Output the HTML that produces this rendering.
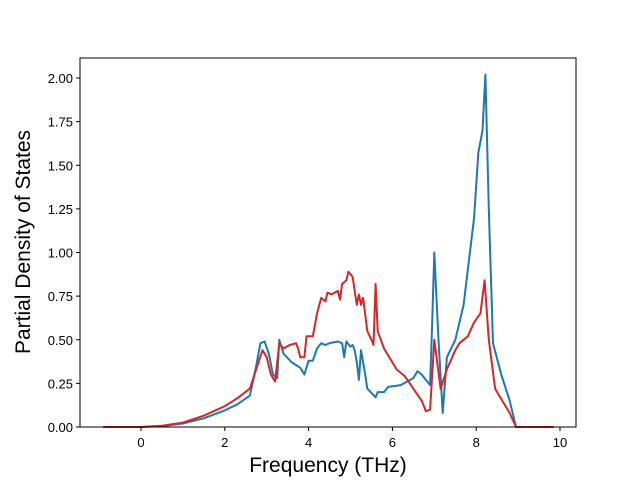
<!DOCTYPE html>
<html><head><meta charset="utf-8"><style>
body{margin:0;background:#fff}
text{font-family:"Liberation Sans","DejaVu Sans",sans-serif}
</style></head><body>
<svg id="c" width="640" height="480" viewBox="0 0 640 480">
<rect x="0" y="0" width="640" height="480" fill="#fff"/>
<g id="plot"></g>
<rect x="80" y="58" width="496" height="369" fill="none" stroke="#000" stroke-width="1"/>
<g id="ticks"></g>
<text x="328" y="472" font-size="21" text-anchor="middle">Frequency (THz)</text>
<text transform="translate(30,242) rotate(-90)" font-size="21" text-anchor="middle">Partial Density of States</text>
</svg>
<script>
const xTicks=[0,2,4,6,8,10];
const yTicks=[0,0.25,0.5,0.75,1.0,1.25,1.5,1.75,2.0];
const blueF=[-0.9,0,0.5,1,1.5,2,2.3,2.6,2.75,2.85,2.95,3.05,3.15,3.25,3.3,3.4,3.6,3.8,3.9,4.0,4.1,4.2,4.3,4.4,4.5,4.7,4.8,4.85,4.9,5.0,5.05,5.1,5.15,5.2,5.25,5.35,5.4,5.6,5.65,5.8,5.9,6.2,6.5,6.6,6.7,6.9,6.95,7.0,7.1,7.2,7.3,7.5,7.7,7.8,7.95,8.05,8.15,8.22,8.3,8.4,8.6,8.8,8.95,9.85];
const blueV=[0,0,0.005,0.02,0.05,0.095,0.13,0.18,0.35,0.48,0.49,0.42,0.3,0.28,0.5,0.42,0.37,0.34,0.3,0.38,0.38,0.45,0.48,0.47,0.48,0.49,0.48,0.4,0.49,0.46,0.47,0.44,0.37,0.27,0.44,0.3,0.22,0.17,0.2,0.2,0.23,0.24,0.28,0.32,0.3,0.24,0.6,1.0,0.5,0.08,0.4,0.5,0.7,0.9,1.2,1.57,1.7,2.02,1.25,0.48,0.3,0.15,0,0];
const redF=[-0.9,0,0.5,1,1.5,2,2.3,2.6,2.75,2.9,3.0,3.1,3.2,3.3,3.4,3.55,3.7,3.75,3.8,3.9,3.95,4.1,4.2,4.3,4.4,4.45,4.55,4.7,4.75,4.8,4.9,4.95,5.05,5.15,5.2,5.25,5.3,5.4,5.5,5.55,5.6,5.65,5.8,6.0,6.1,6.3,6.5,6.7,6.8,6.9,7.0,7.15,7.3,7.5,7.6,7.7,7.8,7.95,8.1,8.2,8.3,8.45,8.6,8.8,8.95,9.85];
const redV=[0,0,0.007,0.025,0.065,0.12,0.165,0.22,0.33,0.44,0.4,0.3,0.26,0.48,0.45,0.47,0.48,0.45,0.4,0.4,0.52,0.52,0.65,0.74,0.72,0.77,0.76,0.78,0.73,0.82,0.84,0.89,0.86,0.7,0.76,0.7,0.74,0.55,0.5,0.47,0.82,0.55,0.45,0.37,0.33,0.29,0.22,0.15,0.09,0.1,0.5,0.22,0.33,0.44,0.48,0.5,0.52,0.6,0.65,0.84,0.5,0.22,0.16,0.08,0,0];
const NS="http://www.w3.org/2000/svg";
const X=f=>141+41.9*f, Y=v=>427-174.5*v;
const plot=document.getElementById('plot'), tk=document.getElementById('ticks');
function line(F,V,col,name){
  const p=document.createElementNS(NS,'polyline');
  p.setAttribute('points',F.map((f,i)=>X(f).toFixed(1)+','+Y(V[i]).toFixed(1)).join(' '));
  p.setAttribute('fill','none');p.setAttribute('stroke',col);p.setAttribute('stroke-width','2');p.setAttribute('stroke-linejoin','round');
  
  
  plot.appendChild(p);
}
line(blueF,blueV,'#1f77b4','blue-series-line');
line(redF,redV,'#d62728','red-series-line');
xTicks.forEach(t=>{
  const l=document.createElementNS(NS,'line');
  l.setAttribute('x1',X(t));l.setAttribute('x2',X(t));l.setAttribute('y1',427);l.setAttribute('y2',431);l.setAttribute('stroke','#000');
  
  
  tk.appendChild(l);
  const s=document.createElementNS(NS,'text');
  s.setAttribute('x',X(t));s.setAttribute('y',447);s.setAttribute('font-size','13');s.setAttribute('text-anchor','middle');
  s.textContent=t;
  
  
  tk.appendChild(s);
});
yTicks.forEach(t=>{
  const l=document.createElementNS(NS,'line');
  l.setAttribute('x1',76);l.setAttribute('x2',80);l.setAttribute('y1',Y(t));l.setAttribute('y2',Y(t));l.setAttribute('stroke','#000');
  
  
  tk.appendChild(l);
  const s=document.createElementNS(NS,'text');
  s.setAttribute('x',73);s.setAttribute('y',Y(t)+5);s.setAttribute('font-size','13');s.setAttribute('text-anchor','end');
  s.textContent=t.toFixed(2);
  
  
  tk.appendChild(s);
});
</script>
</body></html>
